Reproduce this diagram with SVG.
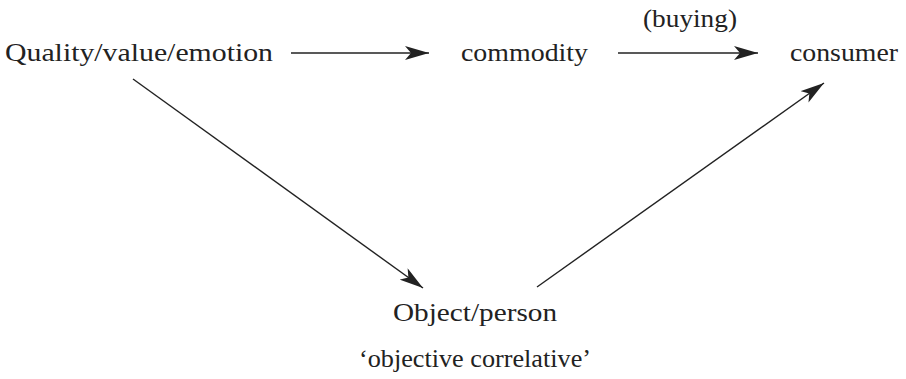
<svg xmlns="http://www.w3.org/2000/svg" width="906" height="379" viewBox="0 0 906 379">
  <style>
    .lbl { font-family: "Liberation Serif", "DejaVu Serif", serif; font-size: 26px; fill: #222; }
    .edge { stroke: #222; stroke-width: 1.4; fill: none; }
  </style>
  <defs>
    <marker id="head" viewBox="0 0 24 14" refX="24" refY="7" markerWidth="24" markerHeight="14" markerUnits="userSpaceOnUse" orient="auto">
      <path d="M0,0 L24,7 L0,14 L6,7 Z" fill="#222"/>
    </marker>
  </defs>
  <rect width="906" height="379" fill="#fff"/>

  <g id="quality">
    <text class="lbl" x="5" y="61" textLength="268" lengthAdjust="spacingAndGlyphs">Quality/value/emotion</text>
  </g>
  <g id="commodity">
    <text class="lbl" x="461" y="61" textLength="127" lengthAdjust="spacingAndGlyphs">commodity</text>
  </g>
  <g id="consumer">
    <text class="lbl" x="790" y="61" textLength="108" lengthAdjust="spacingAndGlyphs">consumer</text>
  </g>
  <g id="object">
    <text class="lbl" x="393" y="321" textLength="164" lengthAdjust="spacingAndGlyphs">Object/person</text>
    <text class="lbl" x="359" y="367" textLength="232" lengthAdjust="spacingAndGlyphs">‘objective correlative’</text>
  </g>

  <g id="connectors">
    <line class="edge" x1="291" y1="53" x2="429" y2="53" marker-end="url(#head)"/>
    <line class="edge" x1="618" y1="53" x2="758" y2="53" marker-end="url(#head)"/>
    <text class="lbl" x="643" y="27" textLength="94" lengthAdjust="spacingAndGlyphs">(buying)</text>
    <line class="edge" x1="133" y1="79" x2="423" y2="288" marker-end="url(#head)"/>
    <line class="edge" x1="537" y1="287" x2="824" y2="83" marker-end="url(#head)"/>
  </g>
</svg>
